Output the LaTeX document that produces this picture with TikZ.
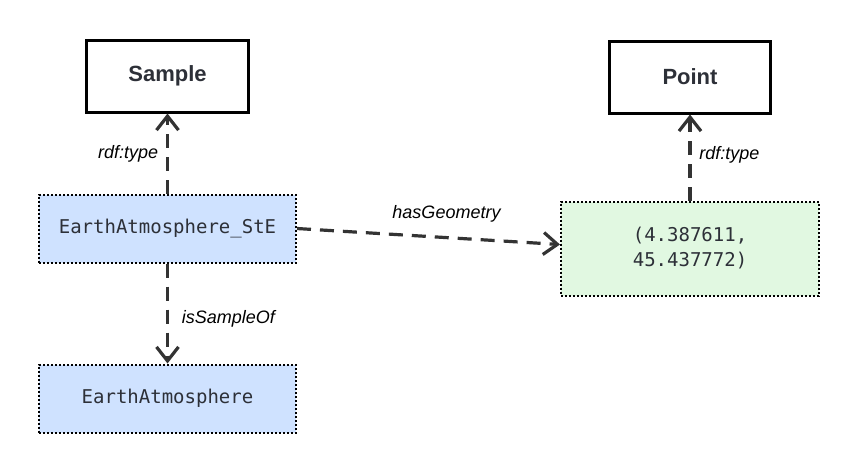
\documentclass[tikz,border=0pt]{standalone}
\usepackage{fontspec}
\setmainfont{Liberation Sans}
\setmonofont{DejaVu Sans Mono}
\usepackage{xcolor}
\usepackage{tikz}
\usetikzlibrary{arrows.meta,positioning}
\definecolor{edgegray}{HTML}{333333}
\definecolor{textgray}{HTML}{2D3038}
\definecolor{sampleblue}{HTML}{CFE2FF}
\definecolor{pointgreen}{HTML}{E1F8E1}

\begin{document}
\begin{tikzpicture}[
  node distance=40pt and 131.5pt,
  cls/.style={draw,line width=1.5pt,minimum width=80.5pt,minimum height=36pt,
              text=textgray,font=\fontsize{11}{13}\selectfont\bfseries},
  inst/.style={draw,line width=1pt,dash pattern=on 1pt off 1pt,minimum width=128.5pt,
               minimum height=34pt,fill=sampleblue,text=textgray,
               font=\fontsize{9.5}{12.5}\selectfont\ttfamily},
  lit/.style={inst,fill=pointgreen,minimum width=129pt,minimum height=47pt,align=center},
  rel/.style={draw=edgegray,line width=1.6pt,dash pattern=on 7pt off 4.5pt,
              -{Straight Barb[length=7pt,width=11pt]}},
  lbl/.style={font=\fontsize{9}{11}\selectfont\itshape,text=black}
]
\useasboundingbox (-83.75pt,-196pt) rectangle (343.75pt,38pt);
\node[cls] (sample) at (0,0) {Sample};
\node[inst,below=of sample] (sample-ste) {EarthAtmosphere\_StE};
\node[inst,below=50pt of sample-ste] (earth-atm) {EarthAtmosphere};
\node[lit,right=of sample-ste,yshift=-10pt] (geom-val) {(4.387611,\\45.437772)};
\node[cls,above=43pt of geom-val] (point) {Point};
\draw[rel] (sample-ste) -- node[lbl,midway,left=0.5pt] {rdf:type} (sample);
\draw[rel] (sample-ste) -- node[lbl,midway,right=3pt,yshift=-2.5pt] {isSampleOf} (earth-atm);
\draw[rel] (sample-ste.east) -- node[lbl,midway,above=3pt,xshift=9pt] {hasGeometry} ([yshift=2pt]geom-val.west);
\draw[rel] (geom-val) -- node[lbl,midway,right=0.5pt,yshift=1.5pt] {rdf:type} (point);
\end{tikzpicture}
\end{document}
